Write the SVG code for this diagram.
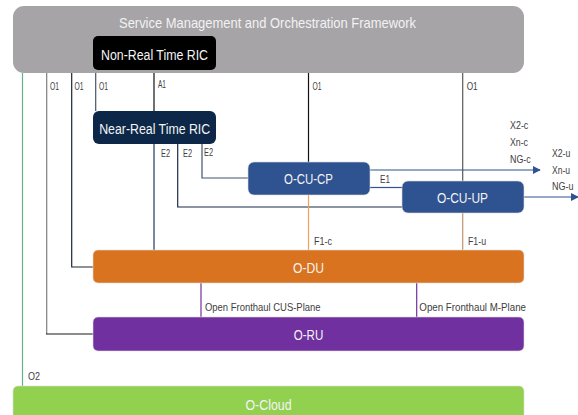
<svg xmlns="http://www.w3.org/2000/svg" width="578" height="415" viewBox="0 0 578 415">
<defs>
<marker id="arr" viewBox="0 0 10 10" refX="9" refY="5" markerWidth="8" markerHeight="8" markerUnits="userSpaceOnUse" orient="auto">
<path d="M0,0 L10,5 L0,10 z" fill="#2f5290"/>
</marker>
<style>
text{font-family:"Liberation Sans",Arial,sans-serif}
.big{font-size:15.5px;fill:#f4f4f4;text-anchor:middle}
.sm{font-size:10.5px;fill:#404040}
.box{stroke:#dcdcdc;stroke-width:0.6}
.ln{fill:none;stroke-width:1.2}
</style>
</defs>
<rect width="578" height="415" fill="#ffffff"/>

<g id="connectors">
<line class="ln" x1="22.5" y1="73" x2="22.5" y2="386" stroke="#63b08a" stroke-width="1.6"/>
<polyline class="ln" points="46.7,73 46.7,334" stroke="#7f7f7f" stroke-width="2"/>
<line class="ln" x1="46" y1="334" x2="93" y2="334" stroke="#1a1a1a" stroke-width="1.5"/>
<polyline class="ln" points="71.7,73 71.7,267 93,267" stroke="#1c2433" stroke-width="1.5"/>
<line class="ln" x1="95.7" y1="73" x2="95.7" y2="111" stroke="#44546a" stroke-width="1"/>
<line class="ln" x1="154" y1="70" x2="154" y2="111" stroke="#111111"/>
<line class="ln" x1="308.5" y1="73" x2="308.5" y2="162" stroke="#111111"/>
<line class="ln" x1="462.7" y1="73" x2="462.7" y2="181" stroke="#595959" stroke-width="1.5"/>
<line class="ln" x1="154" y1="144" x2="154" y2="250" stroke="#1f3864"/>
<polyline class="ln" points="177.7,144 177.7,207 402,207" stroke="#1c2a44" stroke-width="1.5"/>
<polyline class="ln" points="202,144 202,178 248,178" stroke="#44546a" stroke-width="1.2"/>
<line class="ln" x1="370" y1="187.5" x2="402" y2="187.5" stroke="#2f5290" stroke-width="1.3"/>
<line class="ln" x1="370" y1="170" x2="540" y2="170" stroke="#2f5290" stroke-width="1.5" marker-end="url(#arr)"/>
<line class="ln" x1="524" y1="197" x2="578" y2="197" stroke="#2f5290" stroke-width="1.5" marker-end="url(#arr)"/>
<line class="ln" x1="308.5" y1="195" x2="308.5" y2="250" stroke="#f0a058" stroke-width="1.3"/>
<line class="ln" x1="462.7" y1="213" x2="462.7" y2="250" stroke="#c49270" stroke-width="1.5"/>
<line class="ln" x1="201" y1="283" x2="201" y2="317" stroke="#7030a0" stroke-width="1"/>
<line class="ln" x1="416.7" y1="283" x2="416.7" y2="317" stroke="#7030a0" stroke-width="1"/>

<text class="sm" x="50" y="89.5" textLength="9" lengthAdjust="spacingAndGlyphs">O1</text>
<text class="sm" x="74.5" y="89.5" textLength="9" lengthAdjust="spacingAndGlyphs">O1</text>
<text class="sm" x="99" y="89.5" textLength="9" lengthAdjust="spacingAndGlyphs">O1</text>
<text class="sm" x="158" y="87.5" textLength="8" lengthAdjust="spacingAndGlyphs">A1</text>
<text class="sm" x="312.5" y="89.5" textLength="9" lengthAdjust="spacingAndGlyphs">O1</text>
<text class="sm" x="466.7" y="89.5" textLength="11" lengthAdjust="spacingAndGlyphs">O1</text>
<text class="sm" x="161" y="157" textLength="9" lengthAdjust="spacingAndGlyphs">E2</text>
<text class="sm" x="183" y="157" textLength="9" lengthAdjust="spacingAndGlyphs">E2</text>
<text class="sm" x="204" y="156" textLength="9" lengthAdjust="spacingAndGlyphs">E2</text>
<text class="sm" x="380" y="182.5" textLength="10" lengthAdjust="spacingAndGlyphs">E1</text>
<text class="sm" x="510" y="129" textLength="18.3" lengthAdjust="spacingAndGlyphs">X2-c</text>
<text class="sm" x="510" y="146" textLength="18" lengthAdjust="spacingAndGlyphs">Xn-c</text>
<text class="sm" x="510" y="163" textLength="20.7" lengthAdjust="spacingAndGlyphs">NG-c</text>
<text class="sm" x="552" y="157" textLength="18.3" lengthAdjust="spacingAndGlyphs">X2-u</text>
<text class="sm" x="552" y="174" textLength="18" lengthAdjust="spacingAndGlyphs">Xn-u</text>
<text class="sm" x="552" y="190" textLength="21.5" lengthAdjust="spacingAndGlyphs">NG-u</text>
<text class="sm" x="314" y="244.5" textLength="18" lengthAdjust="spacingAndGlyphs">F1-c</text>
<text class="sm" x="468" y="245" textLength="18" lengthAdjust="spacingAndGlyphs">F1-u</text>
<text class="sm" x="205" y="310.5" textLength="115.5" lengthAdjust="spacingAndGlyphs">Open Fronthaul CUS-Plane</text>
<text class="sm" x="419.3" y="311" textLength="106.7" lengthAdjust="spacingAndGlyphs">Open Fronthaul M-Plane</text>
<text class="sm" x="28" y="380" textLength="12" lengthAdjust="spacingAndGlyphs">O2</text>
</g>

<g id="smo">
<rect x="13" y="6" width="511" height="67" rx="11" fill="#a6a4a7"/>
<text class="big" x="267.5" y="27.5" style="font-size:15px;fill:#f2f2f2" textLength="297" lengthAdjust="spacingAndGlyphs">Service Management and Orchestration Framework</text>
</g>

<g id="non-rt-ric">
<rect x="93" y="36" width="123" height="34" rx="5" fill="#000000"/>
<text class="big" x="154.5" y="59.5" textLength="107" lengthAdjust="spacingAndGlyphs">Non-Real Time RIC</text>
</g>

<g id="near-rt-ric">
<rect x="93" y="111" width="123" height="33" rx="6" fill="#0c2748"/>
<text class="big" x="154.7" y="134" textLength="111" lengthAdjust="spacingAndGlyphs">Near-Real Time RIC</text>
</g>

<g id="o-cu-cp">
<rect class="box" x="248" y="162" width="122" height="33" rx="6" fill="#2f5290"/>
<text class="big" x="308.5" y="184" textLength="49" lengthAdjust="spacingAndGlyphs">O-CU-CP</text>
</g>

<g id="o-cu-up">
<rect class="box" x="402" y="181" width="122" height="32" rx="6" fill="#2f5290"/>
<text class="big" x="462.5" y="202.5" textLength="51" lengthAdjust="spacingAndGlyphs">O-CU-UP</text>
</g>

<g id="o-du">
<rect class="box" x="93" y="250" width="431" height="33" rx="5" fill="#d9731f"/>
<text class="big" x="308.5" y="273" textLength="31" lengthAdjust="spacingAndGlyphs">O-DU</text>
</g>

<g id="o-ru">
<rect class="box" x="93" y="317" width="431" height="34" rx="5" fill="#7030a0"/>
<text class="big" x="308.5" y="339.5" textLength="29.5" lengthAdjust="spacingAndGlyphs">O-RU</text>
</g>

<g id="o-cloud">
<rect class="box" x="13" y="386" width="511" height="40" rx="5" fill="#92d050"/>
<text class="big" x="268.5" y="409.5" textLength="46" lengthAdjust="spacingAndGlyphs">O-Cloud</text>
</g>
</svg>
